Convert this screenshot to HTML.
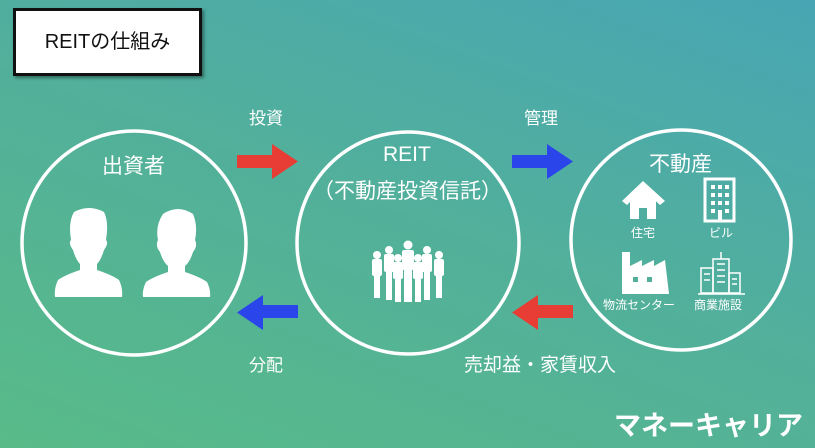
<!DOCTYPE html>
<html><head><meta charset="utf-8"><style>
html,body{margin:0;padding:0}
body{width:815px;height:448px;overflow:hidden;position:relative;background:linear-gradient(20deg,#58bb88 0%,#52b09a 50%,#48a6b4 100%);font-family:"Liberation Sans","Noto Sans CJK JP",sans-serif;color:#fff}
.t{position:absolute;white-space:nowrap}
.title{position:absolute;left:13px;top:8px;width:183px;height:62px;background:#fff;border:3px solid #111;box-shadow:2px 2px 3px rgba(0,0,0,.4);color:#111;font-size:20px;line-height:62px;text-align:center}
</style></head><body>
<div class="title">REITの仕組み</div>
<svg width="815" height="448" style="position:absolute;left:0;top:0">
<g fill="none" stroke="#fff" stroke-width="3.5">
<circle cx="134" cy="243" r="112"/>
<circle cx="408" cy="243" r="111"/>
<circle cx="681" cy="240" r="110"/>
</g>
<polygon points="237,155 272,155 272,144 298,161.5 272,179 272,168 237,168" fill="#e83d35"/>
<polygon points="512,155 547,155 547,144 573,161.5 547,179 547,168 512,168" fill="#2a45ea"/>
<polygon points="298,305 263,305 263,295 237,312.5 263,330 263,318 298,318" fill="#2a45ea"/>
<polygon points="573,305 538,305 538,295 512,312.5 538,330 538,318 573,318" fill="#e83d35"/>
<g fill="#fff">
<path d="M74,212 q15,-8 30,0 q5,10 2,28 q3,3 -2,10 q-3,10 -7,14 l0,6 q15,5 22,10 q4,8 3,17 l-67,0 q-1,-9 3,-17 q7,-5 22,-10 l0,-6 q-4,-4 -7,-14 q-5,-7 -2,-10 q-3,-18 3,-28z"/>
<path d="M163,214 q15,-10 30,0 q5,12 2,26 q3,6 -2,12 q-3,10 -8,14 l0,6 q15,5 22,10 q4,8 3,15 l-67,0 q-1,-7 3,-15 q7,-5 22,-10 l0,-6 q-5,-4 -8,-14 q-5,-6 -2,-12 q-3,-14 5,-26z"/>
</g>
<g fill="#fff">
<g><circle cx="377" cy="255" r="4"/><rect x="372" y="259" width="10" height="17" rx="2"/><rect x="374" y="275" width="6" height="23"/></g>
<g><circle cx="389" cy="250" r="4"/><rect x="384" y="254" width="10" height="18" rx="2"/><rect x="386" y="271" width="6" height="29"/></g>
<g><circle cx="427" cy="250" r="4"/><rect x="422" y="254" width="10" height="18" rx="2"/><rect x="424" y="271" width="6" height="29"/></g>
<g><circle cx="439" cy="255" r="4"/><rect x="434" y="259" width="10" height="17" rx="2"/><rect x="436" y="275" width="6" height="23"/></g>
<g><circle cx="398" cy="258" r="4"/><rect x="393" y="262" width="10" height="17" rx="2"/><rect x="395" y="278" width="6" height="24"/></g>
<g><circle cx="418" cy="258" r="4"/><rect x="413" y="262" width="10" height="17" rx="2"/><rect x="415" y="278" width="6" height="24"/></g>
<g><circle cx="408" cy="245" r="4.5"/><rect x="402" y="250" width="12" height="20" rx="2"/><rect x="404" y="269" width="8" height="33"/></g>
</g>
<g fill="#fff">
<polygon points="622,201 643,181 665,201 660,205 643,189 627,205"/>
<polygon points="630,200 643,188 656,200 656,219 647,219 647,208 639,208 639,219 630,219"/>
</g>
<rect x="705" y="179" width="29" height="42" fill="none" stroke="#fff" stroke-width="3"/>
<g fill="#fff">
<rect x="711" y="185" width="4" height="4"/><rect x="718" y="185" width="4" height="4"/><rect x="725" y="185" width="4" height="4"/>
<rect x="711" y="193" width="4" height="4"/><rect x="718" y="193" width="4" height="4"/><rect x="725" y="193" width="4" height="4"/>
<rect x="711" y="201" width="4" height="4"/><rect x="718" y="201" width="4" height="4"/><rect x="725" y="201" width="4" height="4"/>
<rect x="711" y="209" width="4" height="4"/><rect x="725" y="209" width="4" height="4"/>
<rect x="718" y="210" width="4" height="11"/>
</g>
<path fill="#fff" d="M622,252 l8,0 0,14 12,-6 0,6 12,-6 0,6 11,-6 4,34 -47,0z"/>
<rect x="633" y="277" width="5" height="5" fill="#52b09a"/><rect x="647" y="277" width="5" height="5" fill="#52b09a"/>
<g fill="none" stroke="#fff" stroke-width="1.5">
<rect x="701" y="268" width="12" height="25"/><rect x="713" y="259" width="16" height="34"/><rect x="729" y="273" width="11" height="20"/>
<line x1="721" y1="252" x2="721" y2="259"/><line x1="698" y1="294" x2="745" y2="294"/>
<line x1="717" y1="264" x2="725" y2="264"/><line x1="717" y1="270" x2="725" y2="270"/><line x1="717" y1="276" x2="725" y2="276"/><line x1="717" y1="282" x2="725" y2="282"/>
<line x1="704" y1="274" x2="710" y2="274"/><line x1="704" y1="280" x2="710" y2="280"/><line x1="732" y1="279" x2="737" y2="279"/><line x1="732" y1="284" x2="737" y2="284"/>
</g>
</svg>
<div class="t" style="left:249px;top:104px;font-size:17px">投資</div>
<div class="t" style="left:524px;top:104px;font-size:17px">管理</div>
<div class="t" style="left:249px;top:351px;font-size:17px">分配</div>
<div class="t" style="left:464px;top:350px;font-size:19px">売却益・家賃収入</div>
<div class="t" style="left:102px;top:150px;font-size:21px">出資者</div>
<div class="t" style="left:383px;top:143px;font-size:21px">REIT</div>
<div class="t" style="left:313px;top:175px;font-size:21px">（不動産投資信託）</div>
<div class="t" style="left:649px;top:148px;font-size:21px">不動産</div>
<div class="t" style="left:631px;top:224px;font-size:12px">住宅</div>
<div class="t" style="left:709px;top:224px;font-size:12px">ビル</div>
<div class="t" style="left:603px;top:296px;font-size:12px">物流センター</div>
<div class="t" style="left:694px;top:296px;font-size:12px">商業施設</div>
<div class="t" style="left:614px;top:404px;font-size:27px;font-weight:bold">マネーキャリア</div>
</body></html>
